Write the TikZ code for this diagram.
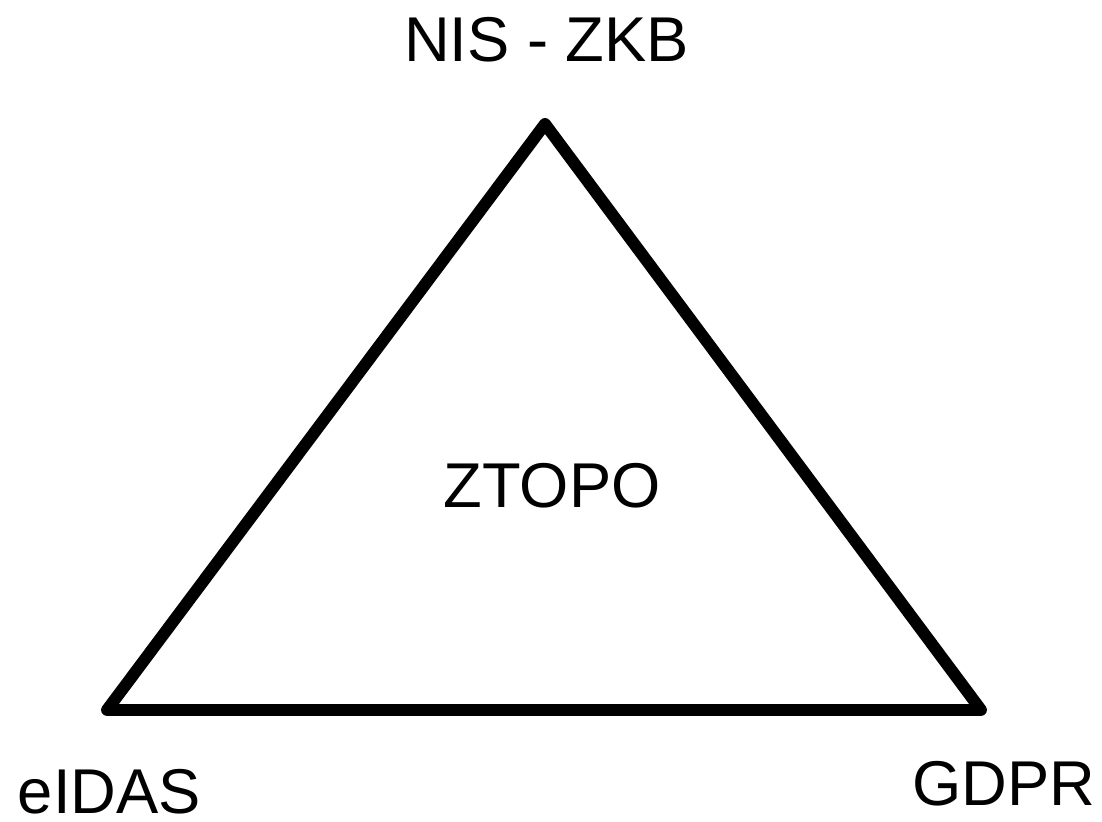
\documentclass[tikz,border=0pt]{standalone}
\usepackage{fontspec}
\setmainfont{Liberation Sans}
\begin{document}
\begin{tikzpicture}[x=0.01cm,y=-0.01cm,
  lbl/.style={inner sep=0pt,outer sep=0pt,font=\fontsize{18pt}{22pt}\selectfont},
  edge/.style={line width=3.4pt,line join=round,line cap=round}]
\useasboundingbox (0,0) rectangle (1102,822);
\coordinate (top) at (545,124);
\coordinate (bl) at (107,710);
\coordinate (br) at (981,710);
\draw[edge] (top) -- (bl) -- (br) -- cycle;
\node[lbl,anchor=base] (nis) at (546.5,62) {NIS - ZKB};
\node[lbl,anchor=base] (ztopo) at (552,508) {ZTOPO};
\node[lbl,anchor=base west,text depth=0pt] (eidas) at (18,814) {eIDAS};
\node[lbl,anchor=base] (gdpr) at (1004,806) {GDPR};
\end{tikzpicture}
\end{document}
